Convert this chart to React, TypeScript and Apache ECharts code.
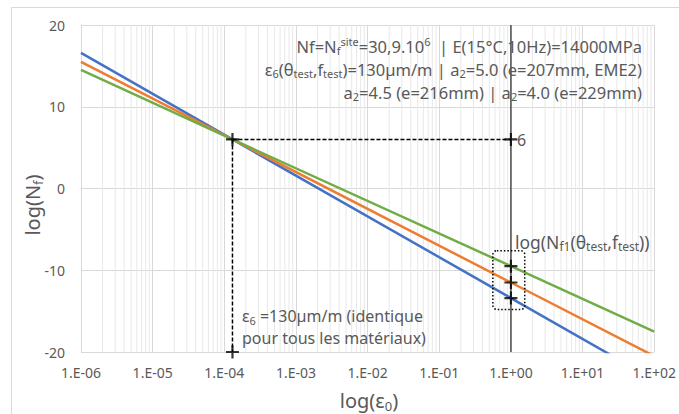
import React, { useEffect, useRef } from 'react';
import * as echarts from 'echarts';

// ---- data ----
const xMin = 1e-6;
const xMax = 1e2;
const yMin = -20;
const yMax = 20;
const yInterval = 10;
const decadeExponents = [-6, -5, -4, -3, -2, -1, 0, 1];
const minorMultipliers = [2, 3, 4, 5, 6, 7, 8, 9];

const epsPoints = [1e-6, 1.3e-4, 1, 1e2];
const blueValues = [16.6, 6, -13.4, -23.4]; // a2 = 5.0
const orangeValues = [15.5, 6, -11.5, -20.5]; // a2 = 4.5
const greenValues = [14.5, 6, -9.5, -17.5]; // a2 = 4.0

const eps6 = 1.3e-4;
const nf6 = 6;
const epsTest = 1;
const crossPoints: [number, number][] = [
  [1.3e-4, 6],
  [1, 6],
  [1.3e-4, -20],
  [1, -9.5],
  [1, -11.5],
  [1, -13.4],
];
const boxX = [0.56, 1.56];
const boxY = [-7.6, -14.8];

const BLUE = '#4472C4';
const ORANGE = '#ED7D31';
const GREEN = '#70AD47';
const GRAY = '#595959';
const DARK = '#1f1f1f';
const FONT = 'Noto Sans';

function fmtX(v: number) {
  const e = Math.round(Math.log10(v));
  return '1.E' + (e < 0 ? '-' : '+') + String(Math.abs(e)).padStart(2, '0');
}

function richSet(size: number) {
  const base = (c: string) => ({ color: c, fontSize: size, fontFamily: FONT, lineHeight: size + 4 });
  const sub = (c: string) => ({ color: c, fontSize: Math.round(size * 0.66), fontFamily: FONT, lineHeight: Math.round(size * 0.95), verticalAlign: 'bottom' });
  const sup = (c: string) => ({ color: c, fontSize: Math.round(size * 0.66), fontFamily: FONT, lineHeight: Math.round(size * 0.8), verticalAlign: 'top' });
  return {
    k: base(DARK), g: base(GRAY), bl: base(BLUE), or: base(ORANGE), gr: base(GREEN),
    kSub: sub(DARK), gSub: sub(GRAY), blSub: sub(BLUE), orSub: sub(ORANGE), grSub: sub(GREEN),
    kSup: sup(DARK), gSup: sup(GRAY),
  };
}

function textEl(x: number, y: number, text: string, size: number, align: string, rotation = 0) {
  return {
    type: 'text',
    x, y, rotation,
    z: 100,
    silent: true,
    style: { text, rich: richSet(size), align, verticalAlign: 'middle', fontFamily: FONT, fontSize: size, fill: GRAY },
  };
}

export default function App() {
  const ref = useRef<HTMLDivElement>(null);
  useEffect(() => {
    const chart = echarts.init(ref.current!, null, { renderer: 'svg' });
    const minorValues: number[] = [];
    decadeExponents.forEach((e) => minorMultipliers.forEach((m) => minorValues.push(m * Math.pow(10, e))));
    const minorSeries = minorValues.map((v) => ({
      type: 'line', z: 1, silent: true, showSymbol: false,
      lineStyle: { color: '#e8e8e8', width: 1 },
      data: [[v, yMin], [v, yMax]],
    }));
    const plus = 'path://M0,5H12V7H0Z M5,0H7V12H5Z';

    chart.setOption({
      animation: false,
      backgroundColor: '#ffffff',
      grid: { left: 81, right: 21, top: 25, bottom: 62, containLabel: false },
      xAxis: {
        type: 'log',
        logBase: 10,
        min: xMin,
        max: xMax,
        splitNumber: 8,
        axisLine: { show: true, lineStyle: { color: '#d9d9d9' } },
        axisTick: { show: false },
        splitLine: { show: true, lineStyle: { color: '#d9d9d9', width: 1 } },
        axisLabel: { color: GRAY, fontSize: 14, fontFamily: FONT, margin: 13, formatter: fmtX, showMaxLabel: true, showMinLabel: true },
      },
      yAxis: {
        type: 'value',
        min: yMin,
        max: yMax,
        interval: yInterval,
        axisLine: { show: true, lineStyle: { color: '#d9d9d9' } },
        axisTick: { show: false },
        splitLine: { show: true, lineStyle: { color: '#d9d9d9', width: 1 } },
        axisLabel: { color: GRAY, fontSize: 14, fontFamily: FONT, margin: 16 },
      },
      series: [
        ...minorSeries,
        {
          type: 'line', z: 3, silent: true, showSymbol: false,
          lineStyle: { color: '#000000', width: 1 },
          data: [[epsTest, yMin], [epsTest, yMax]],
        },
        { name: 'a2=5.0', type: 'line', showSymbol: false, z: 4, lineStyle: { color: BLUE, width: 2.5 }, data: epsPoints.map((x, i) => [x, blueValues[i]]) },
        { name: 'a2=4.5', type: 'line', showSymbol: false, z: 4, lineStyle: { color: ORANGE, width: 2.5 }, data: epsPoints.map((x, i) => [x, orangeValues[i]]) },
        { name: 'a2=4.0', type: 'line', showSymbol: false, z: 4, lineStyle: { color: GREEN, width: 2.5 }, data: epsPoints.map((x, i) => [x, greenValues[i]]) },
        { type: 'line', showSymbol: false, z: 5, silent: true, lineStyle: { color: '#000', width: 1.5, type: [4, 2] }, data: [[eps6, nf6], [epsTest, nf6]] },
        { type: 'line', showSymbol: false, z: 5, silent: true, lineStyle: { color: '#000', width: 1.5, type: [4, 2] }, data: [[eps6, nf6], [eps6, yMin]] },
        { type: 'scatter', symbol: plus, symbolSize: 13, z: 6, silent: true, itemStyle: { color: '#000' }, data: crossPoints },
      ],
    });

    const p1 = chart.convertToPixel({ xAxisIndex: 0, yAxisIndex: 0 }, [boxX[0], boxY[0]]) as number[];
    const p2 = chart.convertToPixel({ xAxisIndex: 0, yAxisIndex: 0 }, [boxX[1], boxY[1]]) as number[];
    const pSix = chart.convertToPixel({ xAxisIndex: 0, yAxisIndex: 0 }, [epsTest, nf6]) as number[];

    chart.setOption({
      graphic: [
        { type: 'rect', silent: true, z: 0, shape: { x: 11.5, y: 7.5, width: 720, height: 440 }, style: { fill: 'none', stroke: '#d9d9d9', lineWidth: 1 } },
        {
          type: 'rect', silent: true, z: 10,
          shape: { x: p1[0], y: p1[1], width: p2[0] - p1[0], height: p2[1] - p1[1], r: 4 },
          style: { fill: 'none', stroke: '#000', lineWidth: 1.5, lineDash: [1.5, 2] },
        },
        textEl(642, 46, '{k|Nf=N}{kSub|f}{kSup|site}{k|=30,9.10}{kSup|6}{g|  | E(15°C,10Hz)=14000MPa}', 16.5, 'right'),
        textEl(642, 69, '{g|ε}{gSub|6}{g|(θ}{gSub|test}{g|,f}{gSub|test}{g|)=130µm/m | }{bl|a}{blSub|2}{bl|=5.0 (e=207mm, EME2)}', 16.5, 'right'),
        textEl(642, 92, '{or|a}{orSub|2}{or|=4.5 (e=216mm)}{k| | }{gr|a}{grSub|2}{gr|=4.0 (e=229mm)}', 16.5, 'right'),
        textEl(pSix[0] + 6, pSix[1] + 1, '{g|6}', 16, 'left'),
        textEl(515, 242, '{g|log(N}{gSub|f1}{g|(θ}{gSub|test}{g|,f}{gSub|test}{g|))}', 17.5, 'left'),
        textEl(242, 316, '{g|ε}{gSub|6}{g| =130µm/m (identique}', 16, 'left'),
        textEl(242, 338, '{g|pour tous les matériaux)}', 16, 'left'),
        textEl(32, 205, '{g|log(N}{gSub|f}{g|)}', 20, 'center', Math.PI / 2),
        textEl(369, 400, '{g|log(ε}{gSub|0}{g|)}', 20, 'center'),
      ],
    });

    return () => chart.dispose();
  }, []);
  return <div ref={ref} style={{ position: 'absolute', left: 0, top: 0, width: 679, height: 414, background: '#fff' }} />;
}
